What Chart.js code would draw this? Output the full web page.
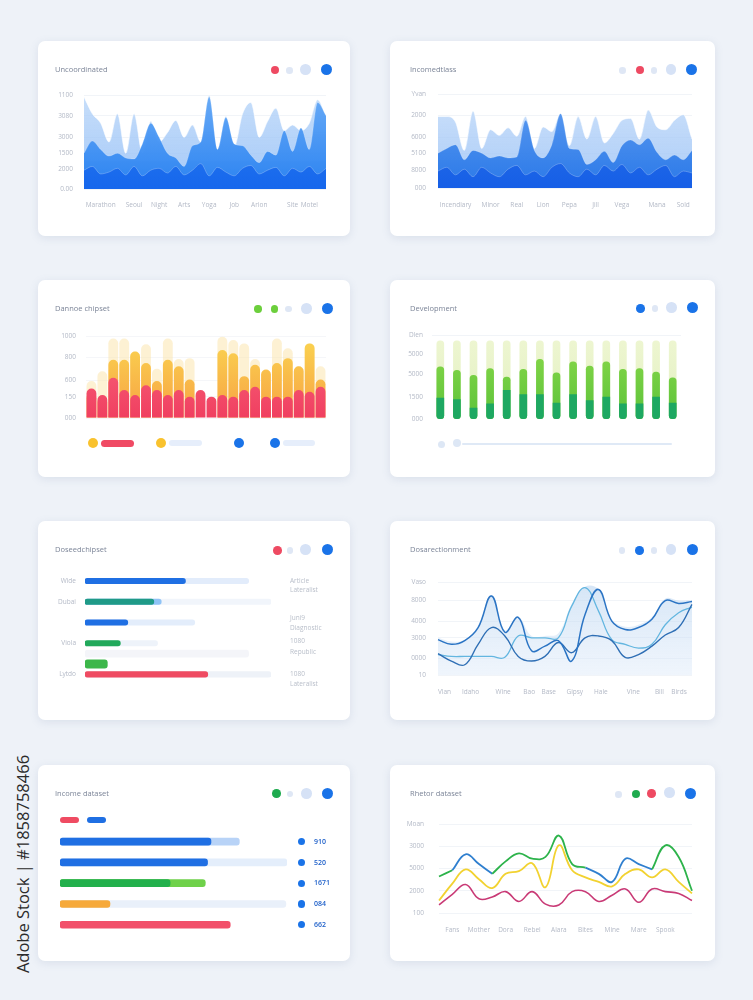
<!DOCTYPE html>
<html>
<head>
<meta charset="utf-8">
<title>Dashboard charts</title>
<script src="https://cdn.jsdelivr.net/npm/chart.js@4.4.1/dist/chart.umd.min.js"></script>
<style>
  body { margin: 0; width: 753px; height: 1000px; background: #eef2f8; position: relative; overflow: hidden;
         font-family: "Open Sans", "Noto Sans", sans-serif; }
  .card { position: absolute; background: #fff; border-radius: 7px; box-shadow: 0 2px 9px rgba(110, 130, 170, 0.16); }
  .card canvas { position: absolute; left: 0; top: 0; }
  .title { position: absolute; top: 23px; font-size: 7.5px; line-height: 10px; color: #7c8598; white-space: nowrap; }
  .dot { position: absolute; border-radius: 50%; }
  .pill { position: absolute; border-radius: 4px; }
  .side { position: absolute; font-size: 6.5px; line-height: 10px; color: #b8bec9; white-space: nowrap; }
  .num { position: absolute; font-size: 7px; line-height: 10px; color: #1d5fc9; font-weight: 600; }
  .stamp { position: absolute; left: 22px; top: 864px; transform: translate(-50%, -50%) rotate(-90deg);
           font-size: 16.5px; color: #2b2b2b; white-space: nowrap; }
</style>
</head>
<body>
<div class="stamp">Adobe Stock | #1858758466</div>
<script>
// ---- data ----

// card 1 : layered blue area
const labels1 = ['', '', 'Marathon', '', '', '', 'Seoul', '', '', 'Night', '', '', 'Arts', '', '', 'Yoga', '', '', 'Job', '', '', 'Arion', '', '', '', 'Site', '', 'Motel', '', ''];
const back1 = [98, 80, 70, 50, 80, 38, 80, 38, 72, 50, 60, 73, 55, 68, 50, 100, 42, 77, 45, 80, 92, 55, 72, 86, 62, 68, 62, 70, 95, 77];
const mid1 = [38, 51, 42, 35, 38, 33, 32, 48, 70, 55, 38, 33, 24, 46, 50, 98, 42, 76, 48, 46, 36, 28, 40, 36, 62, 40, 65, 42, 92, 78];
const low1 = [20, 24, 16, 18, 22, 15, 24, 14, 20, 22, 17, 24, 15, 20, 27, 14, 23, 18, 14, 22, 25, 16, 20, 23, 14, 22, 18, 24, 16, 22];
const yTicks1 = [0, 21, 38, 55, 78, 100];
const yNames1 = ['0.00', '2000', '1500', '3000', '3080', '1100'];

// card 2 : layered blue area
const labels2 = ['', '', 'Incendiary', '', '', '', 'Minor', '', '', 'Real', '', '', 'Lion', '', '', 'Pepa', '', '', 'Jill', '', '', 'Vega', '', '', '', 'Mana', '', '', 'Sold', ''];
const back2 = [76, 76, 70, 40, 82, 42, 62, 56, 64, 55, 76, 42, 65, 60, 79, 45, 76, 52, 76, 48, 58, 72, 74, 52, 83, 65, 62, 72, 78, 52];
const mid2 = [37, 42, 46, 30, 40, 37, 32, 34, 32, 33, 72, 40, 32, 46, 79, 42, 41, 25, 30, 39, 27, 45, 51, 46, 53, 38, 30, 35, 30, 40];
const low2 = [18, 22, 14, 20, 12, 22, 16, 12, 20, 24, 14, 18, 12, 22, 26, 16, 12, 20, 14, 24, 18, 25, 16, 22, 14, 20, 24, 12, 18, 16];
const yTicks2 = [0, 19, 37, 54, 77, 100];
const yNames2 = ['000', '8000', '5100', '6000', '2000', 'Yvan'];

// card 3 : overlapping pink / yellow / cream bars
const labels3 = ['', '', '', '', '', '', '', '', '', '', '', '', '', '', '', '', '', '', '', '', '', ''];
const pink3 = [36, 28, 49, 34, 28, 40, 34, 28, 34, 26, 34, 26, 28, 26, 34, 38, 26, 26, 26, 34, 32, 38];
const yellow3 = [30, 25, 71, 71, 81, 67, 45, 71, 63, 47, 0, 0, 83, 79, 51, 65, 59, 67, 73, 63, 91, 47];
const cream3 = [45, 57, 97, 97, 81, 90, 60, 97, 72, 73, 0, 0, 99, 95, 91, 72, 58, 97, 85, 63, 91, 63];
const yTicks3 = [0, 26, 46, 74, 100];
const yNames3 = ['000', '150', '600', '800', '1000'];

// card 4 : green capsule bars
const labels4 = ['', '', '', '', '', '', '', '', '', '', '', '', '', '', ''];
const track4 = [93, 93, 93, 93, 93, 93, 93, 93, 93, 93, 93, 93, 93, 93, 93];
const mid4 = [62, 58, 52, 60, 50, 59, 71, 55, 68, 63, 68, 59, 60, 56, 49];
const low4 = [25, 23, 13, 18, 34, 29, 29, 19, 29, 22, 26, 18, 18, 26, 19];
const yTicks4 = [0, 26, 53, 77, 100];
const yNames4 = ['000', '1500', '5000', '5000', 'Dlen'];

// card 5 : horizontal progress bars
const labels5 = ['Wide', '', 'Dubai', '', '', '', 'Viola', '', '', 'Lytdo'];
const track5 = [88, null, 100, null, 59, null, 39, null, null, 100];
const value5 = [54, null, 37, null, 23, null, 19, null, null, 66];
const tip5 = [null, null, 41, null, null, null, null, null, null, null];
const band5 = [null, null, null, null, null, null, null, 88, null, null];
const box5 = [null, null, null, null, null, null, null, null, 12, null];
const notes5 = [['Article', 'Lateralist'], ['Juni9', 'Diagnostic'], ['1080', 'Republic'], ['1080', 'Lateralist']];

// card 6 : three smooth lines over a pale area
const points6 = ['', '', '', '', '', '', '', '', '', '', '', '', '', '', '', '', '', '', '', ''];
const lineA6 = [38, 33, 37, 51, 85, 46, 62, 26, 31, 37, 15, 65, 92, 58, 49, 51, 60, 80, 77, 79];
const lineB6 = [23, 15, 11, 33, 51, 42, 20, 15, 20, 35, 24, 40, 42, 37, 19, 22, 31, 43, 51, 76];
const lineC6 = [22, 20, 20, 20, 20, 19, 42, 40, 40, 40, 74, 94, 69, 38, 33, 29, 33, 54, 67, 73];
const shade6 = [40, 36, 38, 52, 86, 48, 62, 42, 42, 45, 76, 95, 92, 60, 52, 54, 62, 82, 80, 80];
// tick labels on a finer 40-step ruler under the lines
const ticks6 = ['', 'Vlan', '', '', '', 'Idaho', '', '', '', '', 'Wine', '', '', '', 'Bao', '', '', 'Base', '', '', '',
    'Gipsy', '', '', '', 'Hale', '', '', '', '', 'Vine', '', '', '', 'Bill', '', '', 'Birds', '', ''];
const yTicks6 = [0, 18, 40, 58, 80, 100];
const yNames6 = ['10', '0000', '3000', '4000', '8000', 'Vaso'];

// card 7 : horizontal bars with values
const labels7 = ['a', 'b', 'c', 'd', 'e'];
const track7 = [79, 100, 64, 99.5, null];
const value7 = [66.5, 65, 48.5, 22, 75];
const numbers7 = ['910', '520', '1671', '084', '662'];

// card 8 : multi-colour lines
const labels8 = ['', 'Fans', '', 'Mother', '', 'Dora', '', 'Rebel', '', 'Alara', '', 'Bites', '', 'Mine', '', 'Mare', '', 'Spook', '', ''];
const green8 = [41, 48, null, null, 44, 58, 67, 61, 63, 87, 55, 51, null, null, null, null, 49, 76, 63, 25];
const blue8 = [null, 48, 66, 55, 44, null, null, null, null, null, null, 51, 44, 35, 61, 55, 49, null, null, null];
const yellow8 = [14, 33, 49, 38, 28, 44, 47, 56, 29, 76, 48, 40, 35, 30, 44, 49, 40, 49, 35, 22];
const magenta8 = [9, 21, 32, 16, 18, 24, 13, 24, 10, 9, 24, 24, 13, 20, 27, 12, 27, 24, 22, 14];
const yTicks8 = [0, 25, 50, 75, 100];
const yNames8 = ['100', '2000', '5000', '3000', 'Moan'];

// ---- look ----
const BLUE = '#1a73e8', RED = '#ee4a62', PALE = '#dfe7f5', PALE2 = '#d6e2f6';
const GRID = '#eef1f6';
Chart.defaults.font.family = '"Open Sans", "Noto Sans", sans-serif';
Chart.defaults.color = '#b3b9c6';

function grad(chart, top, bottom) {
    const a = chart.chartArea;
    if (!a) return bottom;
    const g = chart.ctx.createLinearGradient(0, a.top, 0, a.bottom);
    g.addColorStop(0, top);
    g.addColorStop(1, bottom);
    return g;
}

function addDot(parent, cx, cy, r, color) {
    let d = document.createElement('div');
    d.className = 'dot';
    d.style.cssText = `left:${cx - r}px;top:${cy - r}px;width:${2 * r}px;height:${2 * r}px;background:${color}`;
    parent.appendChild(d);
}

function addPill(parent, x1, x2, cy, h, color) {
    let p = document.createElement('div');
    p.className = 'pill';
    p.style.cssText = `left:${x1}px;top:${cy - h / 2}px;width:${x2 - x1}px;height:${h}px;background:${color}`;
    parent.appendChild(p);
}

function addText(parent, cls, x, cy, txt) {
    let t = document.createElement('div');
    t.className = cls;
    t.textContent = txt;
    t.style.left = x + 'px';
    t.style.top = (cy - 5) + 'px';
    parent.appendChild(t);
}

function makeCard(x, y, w, h, title, titleLeft, dots) {
    let card = document.createElement('div');
    card.className = 'card';
    card.style.cssText = `left:${x}px;top:${y}px;width:${w}px;height:${h}px`;
    let canvas = document.createElement('canvas');
    canvas.width = w;
    canvas.height = h;
    card.appendChild(canvas);
    let t = document.createElement('div');
    t.className = 'title';
    t.textContent = title;
    t.style.left = titleLeft + 'px';
    card.appendChild(t);
    dots.forEach(d => addDot(card, d[0], d[1], d[2], d[3]));
    document.body.appendChild(card);
    card.canvas = canvas;
    return card;
}

function baseOptions(padding, scales, extra) {
    return Object.assign({
        responsive: false,
        animation: false,
        layout: { padding: padding },
        plugins: { legend: { display: false }, tooltip: { enabled: false } },
        scales: scales
    }, extra || {});
}

// y axis with ticks at picked values
function tickAxis(values, names, width, pad, gridColor) {
    return {
        min: 0, max: 100,
        afterBuildTicks: s => { s.ticks = values.map(v => ({ value: v })); },
        afterFit: s => { s.width = width; },
        border: { display: false },
        grid: { color: gridColor || GRID, drawTicks: false, lineWidth: 0.8 },
        ticks: { padding: pad, color: '#b3b9c6', font: { size: 6.5 }, callback: (v, i) => names[i] }
    };
}

function catAxis(height, pad) {
    return {
        afterFit: s => { s.height = height; },
        border: { display: false },
        grid: { display: false, drawTicks: false },
        ticks: { autoSkip: false, maxRotation: 0, padding: pad, color: '#b3b9c6', font: { size: 6.5 } }
    };
}

function areaSet(data, order, top, bottom, border) {
    return {
        data: data, order: order, fill: 'origin', pointRadius: 0,
        cubicInterpolationMode: 'monotone',
        borderWidth: border ? 0.8 : 0, borderColor: border || 'transparent',
        backgroundColor: c => grad(c.chart, top, bottom)
    };
}

function lineSet(data, color, width, order) {
    return {
        data: data, order: order, borderColor: color, borderWidth: width,
        pointRadius: 0, tension: 0.42, fill: false
    };
}

// ---- card 1 ----
let c1 = makeCard(38, 41, 312, 195, 'Uncoordinated', 17,
    [[237, 29, 4.3, RED], [251.3, 29.7, 3.3, PALE], [267.7, 28.3, 5.3, PALE2], [288.7, 28.3, 5.7, BLUE]]);
new Chart(c1.canvas, {
    type: 'line',
    data: {
        labels: labels1,
        datasets: [
            areaSet(back1, 3, 'rgba(190,217,249,0.85)', 'rgba(130,180,245,0.7)', 'rgba(255,255,255,0.7)'),
            areaSet(mid1, 2, 'rgba(96,166,246,0.92)', '#2a82f1', 'rgba(255,255,255,0.25)'),
            areaSet(low1, 1, 'rgba(26,110,238,0.55)', 'rgba(20,100,236,0.9)', 'rgba(255,255,255,0.3)')
        ]
    },
    options: baseOptions({ left: 0, right: 24, top: 54, bottom: 18 }, {
        x: catAxis(29, 12),
        y: tickAxis(yTicks1, yNames1, 46, 11)
    })
});

// ---- card 2 ----
let c2 = makeCard(390, 41, 325, 195, 'Incomedtlass', 20,
    [[232.7, 29.7, 3.3, PALE], [250, 29, 4.3, RED], [264, 29.7, 3.3, PALE], [281, 28.3, 5.3, PALE2], [301.7, 28.3, 5.7, BLUE]]);
new Chart(c2.canvas, {
    type: 'line',
    data: {
        labels: labels2,
        datasets: [
            areaSet(back2, 3, 'rgba(196,220,249,0.85)', 'rgba(140,185,245,0.7)', 'rgba(255,255,255,0.7)'),
            areaSet(mid2, 2, 'rgba(86,152,240,0.92)', '#2a78e8', 'rgba(255,255,255,0.25)'),
            areaSet(low2, 1, 'rgba(28,100,232,0.55)', 'rgba(20,92,230,0.9)', 'rgba(255,255,255,0.3)')
        ]
    },
    options: baseOptions({ left: 0, right: 23, top: 53, bottom: 18 }, {
        x: catAxis(30, 13),
        y: tickAxis(yTicks2, yNames2, 48, 12)
    })
});

// ---- card 3 ----
let c3 = makeCard(38, 280, 312, 197, 'Dannoe chipset', 17,
    [[220, 29, 3.7, '#6ccf3c'], [236.7, 29, 3.7, '#6ccf3c'], [250.7, 29, 3.3, PALE], [268.3, 28.3, 5.3, PALE2], [289.3, 28.3, 5.7, BLUE]]);
function bar3(data, order, color) {
    return { data: data, order: order, grouped: false, backgroundColor: color, borderRadius: 5,
        barPercentage: 0.9, categoryPercentage: 1 };
}
new Chart(c3.canvas, {
    type: 'bar',
    data: {
        labels: labels3,
        datasets: [
            bar3(pink3, 0, c => grad(c.chart, '#f8687e', '#f03f60')),
            bar3(yellow3, 1, c => grad(c.chart, 'rgba(251,212,74,0.95)', 'rgba(247,158,60,0.95)')),
            bar3(cream3, 2, 'rgba(252,228,168,0.5)')
        ]
    },
    options: baseOptions({ left: 0, right: 24, top: 56, bottom: 59 }, {
        x: { display: false },
        y: tickAxis(yTicks3, yNames3, 48, 10, '#f2f4f8')
    })
});
addDot(c3, 55, 163.3, 5, '#f9c22e');
addPill(c3, 63.3, 96, 163.3, 6.5, '#f04a64');
addDot(c3, 123.3, 162.7, 5, '#f9c22e');
addPill(c3, 130.7, 164.3, 163.3, 6, '#e6eefb');
addDot(c3, 200.7, 163.3, 5, BLUE);
addDot(c3, 237.3, 163.3, 5, BLUE);
addPill(c3, 245, 276.7, 163.3, 6, '#e6eefb');

// ---- card 4 ----
let c4 = makeCard(390, 280, 325, 197, 'Development', 20,
    [[250.7, 28.3, 4.3, BLUE], [265, 28.3, 3.3, PALE], [281.7, 27.7, 5.3, PALE2], [302.3, 27.7, 5.7, BLUE]]);
function bar4(data, order, color, radius) {
    return { data: data, order: order, grouped: false, backgroundColor: color, borderRadius: radius,
        borderSkipped: false, barThickness: 7 };
}
new Chart(c4.canvas, {
    type: 'bar',
    data: {
        labels: labels4,
        datasets: [
            bar4(low4, 0, '#1ea862', { topLeft: 0, topRight: 0, bottomLeft: 3.5, bottomRight: 3.5 }),
            bar4(mid4, 1, c => grad(c.chart, '#8edb4c', '#5cc23a'), 3.5),
            bar4(track4, 2, c => grad(c.chart, '#eef6d2', '#e2f0c0'), 3.5)
        ]
    },
    options: baseOptions({ left: 0, right: 34, top: 55, bottom: 58 }, {
        x: { display: false },
        y: tickAxis(yTicks4, yNames4, 42, 9, c => (c.tick && c.tick.value === 100 ? GRID : 'transparent'))
    })
});
addDot(c4, 51.7, 164, 3.5, '#dde7f5');
addDot(c4, 67.3, 163.3, 4, '#dde7f5');
addPill(c4, 71.7, 281.7, 164, 2, '#dfe9f6');

// ---- card 5 ----
let c5 = makeCard(38, 521, 312, 199, 'Doseedchipset', 17,
    [[239.3, 29.3, 4.3, RED], [252, 29.3, 3.3, PALE], [267.7, 28.7, 5.3, PALE2], [289.3, 28.7, 5.7, BLUE]]);
function hbar(data, order, color, thick) {
    return { data: data, order: order, grouped: false, backgroundColor: color, borderRadius: 3,
        borderSkipped: false, barThickness: thick };
}
new Chart(c5.canvas, {
    type: 'bar',
    data: {
        labels: labels5,
        datasets: [
            hbar(value5, 1, ['#1f6fe3', null, '#1f9a87', null, '#1f6fe3', null, '#22a95b', null, null, '#ef4b62'], 5.5),
            hbar(tip5, 2, '#8fc3f6', 5.5),
            hbar(box5, 0, '#3cb74a', 8.5),
            hbar(track5, 3, ['#e2ecfb', null, '#f1f5fb', null, '#e3edfb', null, '#eef3fa', null, null, '#eef2f8'], 5.5),
            hbar(band5, 4, 'rgba(236,239,245,0.6)', 7)
        ]
    },
    options: baseOptions({ left: 0, right: 79, top: 54.8, bottom: 40.4 }, {
        x: { display: false, min: 0, max: 100 },
        y: {
            afterFit: s => { s.width = 47; },
            border: { display: false },
            grid: { display: false, drawTicks: false },
            ticks: { autoSkip: false, padding: 9, color: '#b3b9c6', font: { size: 6.5 } }
        }
    }, { indexAxis: 'y' })
});
[[60, 69.3], [96.7, 106.7], [120, 130.7], [153.3, 163.3]].forEach((ys, i) => {
    addText(c5, 'side', 252, ys[0], notes5[i][0]);
    addText(c5, 'side', 252, ys[1], notes5[i][1]);
});

// ---- card 6 ----
let c6 = makeCard(390, 521, 325, 199, 'Dosarectionment', 20,
    [[232, 29.3, 3.3, PALE], [249.3, 29.3, 4.3, BLUE], [264, 29.3, 3.3, PALE], [281, 28.3, 5.3, PALE2], [302.3, 28.3, 5.7, BLUE]]);
let ruler6 = catAxis(27, 13);
ruler6.type = 'category';
ruler6.labels = ticks6;
ruler6.position = 'bottom';
new Chart(c6.canvas, {
    type: 'line',
    data: {
        labels: points6,
        datasets: [
            lineSet(lineA6, '#2b74c4', 1.5, 1),
            lineSet(lineB6, '#2f6fb5', 1.4, 2),
            lineSet(lineC6, '#63b6e0', 1.3, 3),
            { data: shade6, order: 5, fill: 'origin', pointRadius: 0, tension: 0.42, borderWidth: 0,
              backgroundColor: c => grad(c.chart, 'rgba(185,212,240,0.6)', 'rgba(220,233,249,0.45)') }
        ]
    },
    options: baseOptions({ left: 0, right: 23, top: 61, bottom: 18 }, {
        x: { display: false },
        ruler: ruler6,
        y: tickAxis(yTicks6, yNames6, 48, 12)
    })
});

// ---- card 7 ----
let c7 = makeCard(38, 765, 312, 196, 'Income dataset', 17,
    [[238.3, 28.3, 4.3, '#1fab4f'], [252, 29, 3.3, PALE], [268.3, 28.3, 5.3, PALE2], [289.3, 28.3, 5.7, BLUE]]);
addPill(c7, 21.7, 40.7, 54.8, 5.5, '#ef4b62');
addPill(c7, 49.3, 68.3, 54.8, 5.5, '#1f6fe3');
new Chart(c7.canvas, {
    type: 'bar',
    data: {
        labels: labels7,
        datasets: [
            hbar(value7, 0, ['#1f6fe3', '#1f6fe3', '#22b04c', '#f6a93a', '#f2506a'], 7),
            hbar(track7, 1, ['#b8d3f7', '#e4eefb', '#6fd14a', '#e9f0fa', null], 7)
        ]
    },
    options: baseOptions({ left: 22, right: 63, top: 66.3, bottom: 25.9 }, {
        x: { display: false, min: 0, max: 100 },
        y: { display: false }
    }, { indexAxis: 'y' })
});
[76.7, 97.7, 118.3, 139, 159.7].forEach((cy, i) => {
    addDot(c7, 263.3, cy, 3.7, BLUE);
    addText(c7, 'num', 276, cy, numbers7[i]);
});

// ---- card 8 ----
let c8 = makeCard(390, 765, 325, 196, 'Rhetor dataset', 20,
    [[228.7, 29.7, 3.3, PALE], [246, 29, 4.3, '#1fab4f'], [261.3, 28.3, 4.3, RED], [279.3, 27.3, 5.3, PALE2], [300.7, 28.3, 5.7, BLUE]]);
new Chart(c8.canvas, {
    type: 'line',
    data: {
        labels: labels8,
        datasets: [
            lineSet(green8, '#2db34b', 1.8, 1),
            lineSet(blue8, '#2f7fcf', 1.8, 2),
            lineSet(yellow8, '#f2d230', 1.8, 3),
            lineSet(magenta8, '#c93a76', 1.6, 4)
        ]
    },
    options: baseOptions({ left: 0, right: 23, top: 59, bottom: 18 }, {
        x: catAxis(30, 13),
        y: tickAxis(yTicks8, yNames8, 49, 15)
    })
});
</script>
</body>
</html>
